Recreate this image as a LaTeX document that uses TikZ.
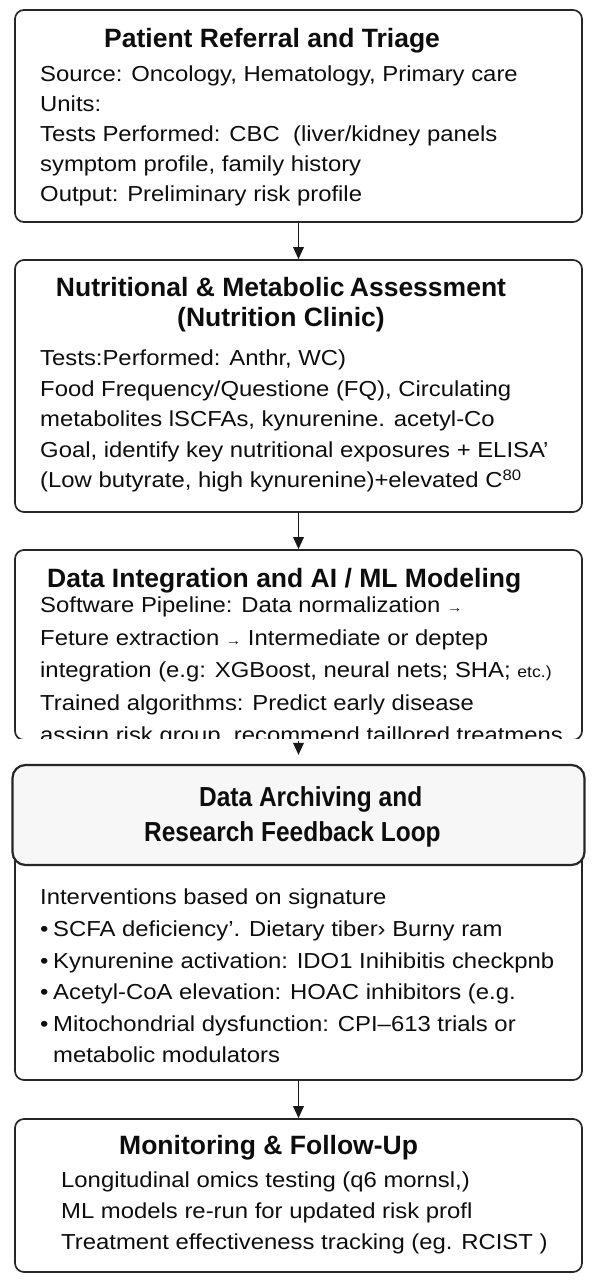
\documentclass[tikz,border=0pt]{standalone}
\usepackage{fontspec}
\setmainfont{Liberation Sans}[FakeStretch=1.1]
\newfontfamily\headfont{Liberation Sans}
\newfontfamily\archfont{Liberation Sans}[FakeStretch=0.89]
\usetikzlibrary{arrows.meta}

\begin{document}
\begin{tikzpicture}[x=1pt, y=-1pt, every node/.style={font=\fontsize{21.7}{29.8}\selectfont, text=black!95}]
\tikzstyle{stage} = [rectangle, rounded corners=9pt, draw=black!85, line width=1.7pt]
\tikzstyle{heading} = [font=\headfont\bfseries\fontsize{26.5}{30}\selectfont, anchor=base west, inner sep=0pt]
\tikzstyle{body} = [align=left, anchor=north west, inner sep=0pt]
\tikzstyle{flow} = [-{Triangle[length=12pt,width=10.5pt]}, line width=1.8pt, draw=black!90]

\useasboundingbox (0,0) rectangle (593,1280);

\node[stage, minimum width=567pt, minimum height=212pt] (triage) at (298.5,116) {};
\node[heading] (triagetitle) at (104,47.5) {Patient Referral and Triage};
\node[body] (triagetext) at (40,66) {Source: Oncology, Hematology, Primary care\\
Units:\\
Tests Performed: CBC \ (liver/kidney panels\\
symptom profile, family history\\
Output: Preliminary risk profile};

\node[stage, minimum width=567pt, minimum height=252pt] (nutrition) at (298.5,386) {};
\node[heading, anchor=north, align=center] (nutritiontitle) at (281,277.5) {Nutritional \& Metabolic\kern-2pt\ Assessment\\(Nutrition Clinic)};
\node[body, font=\fontsize{21.7}{30.5}\selectfont] (nutritiontext) at (40,350) {Tests:Performed: Anthr, WC)\\
Food Frequency/Questione (FQ), Circulating\\
metabolites lSCFAs, kynurenine. acetyl-Co\\
Goal, identify key nutritional exposures + ELISA’\\
(Low butyrate, high kynurenine)+elevated C\textsuperscript{80}};

\node[stage, minimum width=567pt, minimum height=190pt] (modeling) at (298.5,645) {};
\node[heading] (modelingtitle) at (47,587.5) {Data Integration and AI / ML Modeling};
\node[body, font=\fontsize{21.7}{32.5}\selectfont] (modelingtext) at (40,597) {Software Pipeline: Data normalization {\fontsize{14}{14}\selectfont →}\\
Feture extraction {\fontsize{14}{14}\selectfont →} Intermediate or deptep\\
integration (e.g: XGBoost, neural nets; SHA; {\fontsize{16}{16}\selectfont etc.)}\\
Trained algorithms: Predict early disease\\
assign risk group, recommend taillored treatmens};

\node[stage, minimum width=567pt, minimum height=230pt] (intervention) at (298.5,965) {};
\node[body, font=\fontsize{21.7}{31.6}\selectfont] (interventiontext) at (40,889) {Interventions based on signature\\
\makebox[13pt][l]{\textbullet}SCFA deficiency’. Dietary tiber› Burny ram\\
\makebox[13pt][l]{\textbullet}Kynurenine activation: IDO1 Inihibitis checkpnb\\
\makebox[13pt][l]{\textbullet}Acetyl-CoA elevation: HOAC inhibitors (e.g.\\
\makebox[13pt][l]{\textbullet}Mitochondrial dysfunction: CPI–613 trials or\\
\hspace*{13pt}metabolic modulators};

% the archive panel hides the lower edge of the modeling box
\fill[white] (0,739) rectangle (593,765);
\node[stage, rounded corners=13pt, line width=2.2pt, fill=black!3, minimum width=572pt, minimum height=100pt] (archive) at (298.5,815) {};
\node[body, font=\archfont\bfseries\fontsize{27.5}{35}\selectfont] (archivetitle) at (144,786.5) {\hspace*{55pt}Data Archiving and\\Research Feedback Loop};

\node[stage, minimum width=567pt, minimum height=153pt] (monitor) at (298.5,1195.5) {};
\node[heading] (monitortitle) at (119,1154.5) {Monitoring \& Follow-Up};
\node[body, font=\fontsize{21.7}{31}\selectfont] (monitortext) at (61,1172) {Longitudinal omics testing (q6 mornsl,)\\
ML models re-run for updated risk profl\\
Treatment effectiveness tracking (eg. RCIST )};

\draw[flow] (triage) -- (nutrition);
\draw[flow] (nutrition) -- (modeling);
\draw[flow, shorten >=9pt] (modeling) -- (archive);
\draw[flow] (intervention) -- (monitor);

\end{tikzpicture}
\end{document}
